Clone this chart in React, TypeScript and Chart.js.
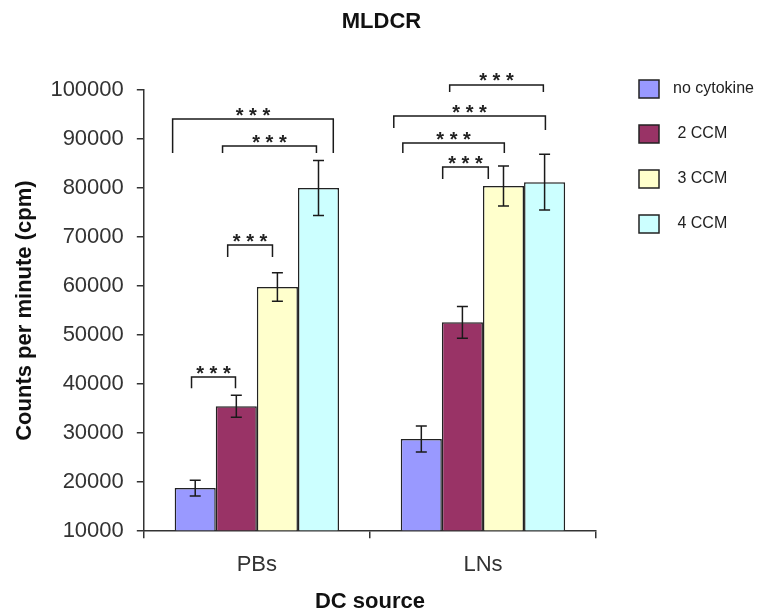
import React, { useEffect, useRef } from "react";
import { Chart, registerables } from "chart.js";

Chart.register(...registerables);

const chartTitle = "MLDCR";
const xAxisTitle = "DC source";
const yAxisTitle = "Counts per minute (cpm)";
const categories = ["PBs", "LNs"];
const seriesLabels = ["no cytokine", " 2 CCM", " 3 CCM", " 4 CCM"];
const seriesColors = ["#9999FF", "#993366", "#FFFFCC", "#CCFFFF"];

const noCytokine = [18800, 28800];
const ccm2 = [35500, 52600];
const ccm3 = [59800, 80400];
const ccm4 = [80000, 81200];

const noCytokineErr = [1600, 2650];
const ccm2Err = [2250, 3250];
const ccm3Err = [2900, 4080];
const ccm4Err = [5600, 5700];

const yMin = 10000;
const yMax = 100000;
const yStep = 10000;

// significance brackets: group index, leg positions (in bar widths from the group's left edge),
// bracket level and leg-end values (in cpm)
const bracketGroup = [0, 0, 0, 0, 1, 1, 1, 1];
const bracketFrom = [-0.05, 1.165, 1.29, 0.41, 1.19, -0.17, 0.05, 1.02];
const bracketTo = [3.86, 3.45, 2.38, 1.48, 3.47, 3.52, 2.52, 2.13];
const bracketLevel = [94080, 88570, 68370, 41430, 101020, 94690, 89180, 84290];
const bracketLegLeft = [87140, 87140, 65920, 39180, 99590, 92240, 87140, 81840];
const bracketLegRight = [87140, 87140, 65920, 39180, 99590, 91840, 87140, 81840];
const bracketLabel = "* * *";

const seriesValues = [noCytokine, ccm2, ccm3, ccm4];
const seriesErrors = [noCytokineErr, ccm2Err, ccm3Err, ccm4Err];

const FONT = "'Liberation Sans', Arial, sans-serif";

const titlePlugin = {
  id: "centeredTitle",
  afterDraw(chart: any) {
    const ctx = chart.ctx;
    ctx.save();
    ctx.font = `bold 22px ${FONT}`;
    ctx.fillStyle = "#111";
    ctx.textAlign = "center";
    ctx.textBaseline = "middle";
    ctx.fillText(chartTitle, chart.width / 2 + 2, 22);
    ctx.restore();
  },
};

const errorBarPlugin = {
  id: "errorBars",
  afterDatasetsDraw(chart: any) {
    const ctx = chart.ctx;
    const y = chart.scales.y;
    ctx.save();
    ctx.strokeStyle = "#1a1a1a";
    ctx.lineWidth = 1.5;
    chart.data.datasets.forEach((ds: any, di: number) => {
      const meta = chart.getDatasetMeta(di);
      meta.data.forEach((bar: any, i: number) => {
        const v = ds.data[i];
        const e = seriesErrors[di][i];
        const yTop = y.getPixelForValue(v + e);
        const yBot = y.getPixelForValue(v - e);
        const x = bar.x;
        const cap = 5.5;
        ctx.beginPath();
        ctx.moveTo(x, yTop);
        ctx.lineTo(x, yBot);
        ctx.moveTo(x - cap, yTop);
        ctx.lineTo(x + cap, yTop);
        ctx.moveTo(x - cap, yBot);
        ctx.lineTo(x + cap, yBot);
        ctx.stroke();
      });
    });
    ctx.restore();
  },
};

const bracketPlugin = {
  id: "brackets",
  afterDraw(chart: any) {
    const ctx = chart.ctx;
    const y = chart.scales.y;
    ctx.save();
    ctx.strokeStyle = "#1a1a1a";
    ctx.lineWidth = 1.5;
    ctx.fillStyle = "#222";
    ctx.font = `bold 20px ${FONT}`;
    ctx.textAlign = "center";
    ctx.textBaseline = "alphabetic";
    bracketGroup.forEach((g, k) => {
      const bar0: any = chart.getDatasetMeta(0).data[g];
      const w = bar0.width;
      const left = bar0.x - w / 2;
      const x1 = left + bracketFrom[k] * w;
      const x2 = left + bracketTo[k] * w;
      const yl = y.getPixelForValue(bracketLevel[k]);
      const y1 = y.getPixelForValue(bracketLegLeft[k]);
      const y2 = y.getPixelForValue(bracketLegRight[k]);
      ctx.beginPath();
      ctx.moveTo(x1, y1);
      ctx.lineTo(x1, yl);
      ctx.lineTo(x2, yl);
      ctx.lineTo(x2, y2);
      ctx.stroke();
      ctx.fillText(bracketLabel, (x1 + x2) / 2, yl + 2.5);
    });
    ctx.restore();
  },
};

const legendPlugin = {
  id: "sideLegend",
  afterDraw(chart: any) {
    const ctx = chart.ctx;
    const area = chart.chartArea;
    ctx.save();
    ctx.font = `16px ${FONT}`;
    ctx.textBaseline = "middle";
    ctx.textAlign = "left";
    chart.data.datasets.forEach((ds: any, i: number) => {
      const bx = area.right + 43;
      const cy = area.top - 1 + i * 45;
      ctx.fillStyle = ds.backgroundColor;
      ctx.fillRect(bx, cy - 9, 20, 18);
      ctx.strokeStyle = "#222";
      ctx.lineWidth = 1.5;
      ctx.strokeRect(bx, cy - 9, 20, 18);
      ctx.fillStyle = "#222";
      ctx.fillText(ds.label, bx + 34, cy);
    });
    ctx.restore();
  },
};

export default function App() {
  const ref = useRef<HTMLCanvasElement | null>(null);

  useEffect(() => {
    if (!ref.current) return;
    const chart = new Chart(ref.current, {
      type: "bar",
      data: {
        labels: categories,
        datasets: seriesLabels.map((label, i) => ({
          label,
          data: seriesValues[i],
          backgroundColor: seriesColors[i],
          borderColor: "#222",
          borderWidth: 1.5,
          base: yMin,
          barPercentage: 1,
          categoryPercentage: 0.727,
        })),
      },
      options: {
        animation: false,
        responsive: false,
        devicePixelRatio: 1,
        layout: { padding: { top: 90, right: 163, bottom: 0, left: 0 } },
        plugins: {
          legend: { display: false },
          tooltip: { enabled: false },
          title: { display: false },
        },
        scales: {
          x: {
            offset: true,
            grid: {
              display: true,
              offset: true,
              drawOnChartArea: false,
              drawTicks: true,
              tickLength: 7,
              color: "#333",
              lineWidth: 1.5,
            },
            border: { display: true, color: "#333", width: 1.5 },
            ticks: {
              color: "#333",
              padding: 14,
              font: { family: FONT, size: 22 },
            },
            title: {
              display: true,
              text: xAxisTitle,
              color: "#111",
              font: { family: FONT, size: 22, weight: "bold" },
              padding: { top: -4, bottom: -5 },
            },
          },
          y: {
            min: yMin,
            max: yMax,
            grid: {
              display: true,
              drawOnChartArea: false,
              drawTicks: true,
              tickLength: 7,
              color: "#333",
              lineWidth: 1.5,
            },
            border: { display: true, color: "#333", width: 1.5 },
            ticks: {
              stepSize: yStep,
              color: "#333",
              padding: 13,
              font: { family: FONT, size: 22 },
              callback: (v: any) => String(v),
            },
            title: {
              display: true,
              text: yAxisTitle,
              color: "#111",
              font: { family: FONT, size: 22, weight: "bold" },
              padding: { top: 12, bottom: -1 },
            },
          },
        },
      },
      plugins: [titlePlugin, errorBarPlugin, bracketPlugin, legendPlugin],
    });
    return () => chart.destroy();
  }, []);

  return (
    <div style={{ position: "fixed", left: 0, top: 0, width: 759, height: 610, background: "#fff" }}>
      <canvas ref={ref} width={759} height={610} style={{ display: "block" }} />
    </div>
  );
}
